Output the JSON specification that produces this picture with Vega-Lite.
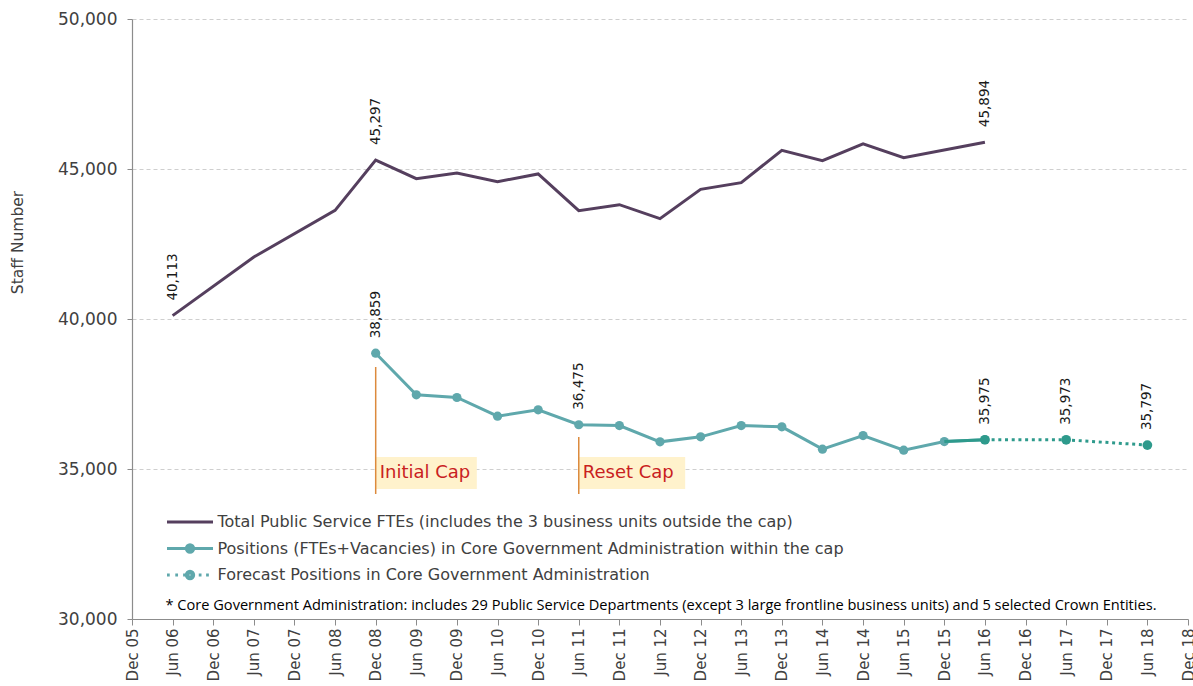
{
  "$schema": "https://vega.github.io/schema/vega-lite/v6.json",
  "width": 1056,
  "height": 600,
  "autosize": "none",
  "padding": {"left": 132, "top": 19, "right": 5, "bottom": 67},
  "background": "white",
  "datasets": {
    "pts": [
      {"series": "total", "i": 1, "value": 40113},
      {"series": "total", "i": 3, "value": 42067},
      {"series": "total", "i": 5, "value": 43622},
      {"series": "total", "i": 6, "value": 45297},
      {"series": "total", "i": 7, "value": 44679},
      {"series": "total", "i": 8, "value": 44868},
      {"series": "total", "i": 9, "value": 44579},
      {"series": "total", "i": 10, "value": 44835},
      {"series": "total", "i": 11, "value": 43611},
      {"series": "total", "i": 12, "value": 43811},
      {"series": "total", "i": 13, "value": 43344},
      {"series": "total", "i": 14, "value": 44323},
      {"series": "total", "i": 15, "value": 44545},
      {"series": "total", "i": 16, "value": 45624},
      {"series": "total", "i": 17, "value": 45279},
      {"series": "total", "i": 18, "value": 45835},
      {"series": "total", "i": 19, "value": 45379},
      {"series": "total", "i": 21, "value": 45894},
      {"series": "positions", "i": 6, "value": 38859},
      {"series": "positions", "i": 7, "value": 37473},
      {"series": "positions", "i": 8, "value": 37383},
      {"series": "positions", "i": 9, "value": 36762},
      {"series": "positions", "i": 10, "value": 36972},
      {"series": "positions", "i": 11, "value": 36475},
      {"series": "positions", "i": 12, "value": 36449},
      {"series": "positions", "i": 13, "value": 35905},
      {"series": "positions", "i": 14, "value": 36072},
      {"series": "positions", "i": 15, "value": 36449},
      {"series": "positions", "i": 16, "value": 36405},
      {"series": "positions", "i": 17, "value": 35661},
      {"series": "positions", "i": 18, "value": 36116},
      {"series": "positions", "i": 19, "value": 35628},
      {"series": "positions", "i": 20, "value": 35915},
      {"series": "positions", "i": 21, "value": 35975},
      {"series": "forecast", "i": 20, "value": 35915},
      {"series": "forecast", "i": 21, "value": 35975},
      {"series": "forecast", "i": 23, "value": 35973},
      {"series": "forecast", "i": 25, "value": 35797}
    ],
    "labels": [
      {"series": "total", "i": 1, "value": 40113},
      {"series": "total", "i": 6, "value": 45297},
      {"series": "total", "i": 21, "value": 45894},
      {"series": "positions", "i": 6, "value": 38859},
      {"series": "positions", "i": 11, "value": 36475},
      {"series": "positions", "i": 21, "value": 35975},
      {"series": "forecast", "i": 23, "value": 35973},
      {"series": "forecast", "i": 25, "value": 35797}
    ],
    "caps": [
      {"name": "Initial Cap", "i": 6, "i2": 8.49, "rtop": 38400, "rbot": 34167, "btop": 35400, "bbot": 34333, "ty": 34867},
      {"name": "Reset Cap", "i": 11, "i2": 13.62, "rtop": 36067, "rbot": 34167, "btop": 35400, "bbot": 34333, "ty": 34867}
    ]
  },
  "layer": [
    {
      "data": {"name": "caps"},
      "mark": {"type": "rect", "fill": "#fff2cc"},
      "encoding": {
        "x": {
          "field": "i", "type": "quantitative",
          "scale": {"domain": [0, 26], "nice": false, "zero": false},
          "axis": {
            "title": null,
            "values": [0,1,2,3,4,5,6,7,8,9,10,11,12,13,14,15,16,17,18,19,20,21,22,23,24,25,26],
            "labelExpr": "['Dec 05','Jun 06','Dec 06','Jun 07','Dec 07','Jun 08','Dec 08','Jun 09','Dec 09','Jun 10','Dec 10','Jun 11','Dec 11','Jun 12','Dec 12','Jun 13','Dec 13','Jun 14','Dec 14','Jun 15','Dec 15','Jun 16','Dec 16','Jun 17','Dec 17','Jun 18','Dec 18'][datum.value]",
            "labelAngle": -90,
            "grid": false
          }
        },
        "x2": {"field": "i2"},
        "y": {
          "field": "btop", "type": "quantitative",
          "scale": {"domain": [30000, 50000], "nice": false, "zero": false},
          "axis": {
            "title": "Staff Number",
            "values": [30000, 35000, 40000, 45000, 50000],
            "labelExpr": "format(datum.value, ',')",
            "grid": true,
            "titleX": -115,
            "titleY": 223,
            "titleBaseline": "middle",
            "titleAngle": 270
          }
        },
        "y2": {"field": "bbot"}
      }
    },
    {
      "data": {"name": "caps"},
      "mark": {"type": "rule", "color": "#dc8a3c", "strokeWidth": 1.5},
      "encoding": {
        "x": {"field": "i", "type": "quantitative"},
        "y": {"field": "rtop", "type": "quantitative"},
        "y2": {"field": "rbot"}
      }
    },
    {
      "data": {"name": "caps"},
      "mark": {"type": "text", "align": "left", "baseline": "middle", "dx": 4, "font": "DejaVu Sans", "fontSize": 18, "color": "#c9211e"},
      "encoding": {
        "x": {"field": "i", "type": "quantitative"},
        "y": {"field": "ty", "type": "quantitative"},
        "text": {"field": "name"}
      }
    },
    {
      "data": {"name": "pts"},
      "transform": [{"filter": "datum.series == 'total'"}],
      "mark": {"type": "line", "color": "#553f5e", "strokeWidth": 3},
      "encoding": {
        "x": {"field": "i", "type": "quantitative"},
        "y": {"field": "value", "type": "quantitative"}
      }
    },
    {
      "data": {"name": "pts"},
      "transform": [{"filter": "datum.series == 'positions'"}],
      "mark": {"type": "line", "color": "#5fa8ac", "strokeWidth": 3},
      "encoding": {
        "x": {"field": "i", "type": "quantitative"},
        "y": {"field": "value", "type": "quantitative"}
      }
    },
    {
      "data": {"name": "pts"},
      "transform": [{"filter": "datum.series == 'positions'"}],
      "mark": {"type": "point", "filled": true, "size": 85, "color": "#5fa8ac", "opacity": 1},
      "encoding": {
        "x": {"field": "i", "type": "quantitative"},
        "y": {"field": "value", "type": "quantitative"}
      }
    },
    {
      "data": {"name": "pts"},
      "transform": [{"filter": "datum.series == 'forecast' && datum.i <= 21"}],
      "mark": {"type": "line", "color": "#2e9a8c", "strokeWidth": 3},
      "encoding": {
        "x": {"field": "i", "type": "quantitative"},
        "y": {"field": "value", "type": "quantitative"}
      }
    },
    {
      "data": {"name": "pts"},
      "transform": [{"filter": "datum.series == 'forecast' && datum.i >= 21"}],
      "mark": {"type": "line", "color": "#2e9a8c", "strokeWidth": 3, "strokeDash": [3, 3.7]},
      "encoding": {
        "x": {"field": "i", "type": "quantitative"},
        "y": {"field": "value", "type": "quantitative"}
      }
    },
    {
      "data": {"name": "pts"},
      "transform": [{"filter": "datum.series == 'forecast' && datum.i >= 21"}],
      "mark": {"type": "point", "filled": true, "size": 95, "color": "#2e9a8c", "opacity": 1},
      "encoding": {
        "x": {"field": "i", "type": "quantitative"},
        "y": {"field": "value", "type": "quantitative"}
      }
    },
    {
      "data": {"name": "labels"},
      "mark": {"type": "text", "angle": 270, "align": "left", "baseline": "middle", "dx": 15, "font": "DejaVu Sans", "fontSize": 13.5, "color": "#1a1a1a"},
      "encoding": {
        "x": {"field": "i", "type": "quantitative"},
        "y": {"field": "value", "type": "quantitative"},
        "text": {"field": "value", "type": "quantitative", "format": ","}
      }
    },
    {
      "data": {"name": "pts"},
      "transform": [{"filter": "false"}],
      "mark": {"type": "point", "filled": false, "strokeWidth": 3, "opacity": 1},
      "encoding": {
        "x": {"field": "i", "type": "quantitative"},
        "y": {"field": "value", "type": "quantitative"},
        "color": {
          "field": "series", "type": "nominal",
          "scale": {"domain": ["total", "positions", "forecast"], "range": ["#553f5e", "#5fa8ac", "#5fa8ac"]},
          "legend": {
            "orient": "none",
            "legendX": 33.5,
            "legendY": 495,
            "direction": "vertical",
            "padding": 0,
            "symbolSize": 2116,
            "symbolStrokeWidth": 3,
            "clipHeight": 16,
            "rowPadding": 10.5,
            "labelOffset": 3,
            "labelFont": "DejaVu Sans",
            "labelFontSize": 16,
            "labelColor": "#404040",
            "labelLimit": 1000,
            "labelExpr": "datum.value == 'total' ? 'Total Public Service FTEs (includes the 3 business units outside the cap)' : datum.value == 'positions' ? 'Positions (FTEs+Vacancies) in Core Government Administration within the cap' : 'Forecast Positions in Core Government Administration'",
            "title": "* Core Government  Administration: includes 29 Public Service Departments (except 3 large frontline business units) and 5 selected Crown Entities.",
            "titleOrient": "bottom",
            "titleAnchor": "start",
            "titlePadding": 15,
            "titleFont": "Open Sans",
            "titleFontSize": 14.6,
            "titleFontWeight": "normal",
            "titleColor": "#000000",
            "titleLimit": 1100
          }
        },
        "shape": {
          "field": "series", "type": "nominal",
          "scale": {
            "domain": ["total", "positions", "forecast"],
            "range": [
              "M-1,0H1",
              "M-1,0H1M0.04,0A0.04,0.04 0 1,1 -0.04,0A0.04,0.04 0 1,1 0.04,0M0.1,0A0.1,0.1 0 1,1 -0.1,0A0.1,0.1 0 1,1 0.1,0M0.16,0A0.16,0.16 0 1,1 -0.16,0A0.16,0.16 0 1,1 0.16,0",
              "M-1,0h0.12M-0.64,0h0.12M-0.3,0h0.12M0.38,0h0.12M0.7,0h0.12M0.04,0A0.04,0.04 0 1,1 -0.04,0A0.04,0.04 0 1,1 0.04,0M0.1,0A0.1,0.1 0 1,1 -0.1,0A0.1,0.1 0 1,1 0.1,0M0.16,0A0.16,0.16 0 1,1 -0.16,0A0.16,0.16 0 1,1 0.16,0"
            ]
          }
        }
      }
    }
  ],
  "config": {
    "view": {"stroke": null},
    "font": "DejaVu Sans",
    "axis": {
      "labelFont": "DejaVu Sans",
      "labelColor": "#404040",
      "labelFontSize": 15,
      "titleFont": "DejaVu Sans",
      "titleColor": "#404040",
      "titleFontSize": 15.5,
      "titleFontWeight": "normal",
      "domainColor": "#8c8c8c",
      "tickColor": "#8c8c8c",
      "domainWidth": 1.2,
      "gridColor": "#cfcfcf",
      "gridDash": [4, 3],
      "gridWidth": 1,
      "labelOverlap": false,
      "labelFlush": false
    },
    "axisX": {"tickSize": 6, "labelPadding": 3, "labelBound": false},
    "axisY": {"tickSize": 5, "labelPadding": 10, "labelFontSize": 17}
  }
}
